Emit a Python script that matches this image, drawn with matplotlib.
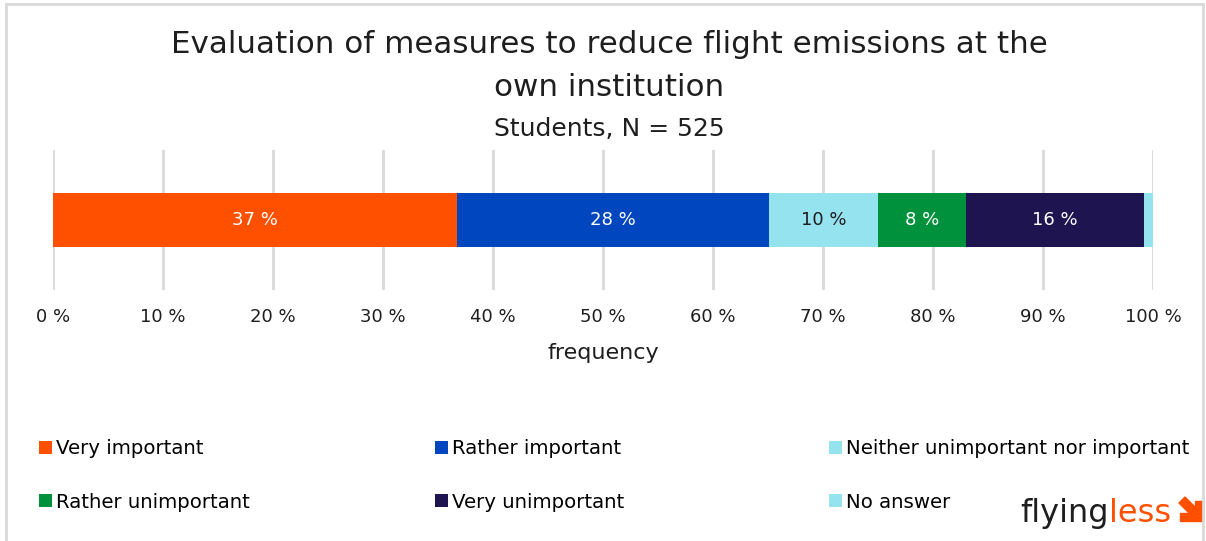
import matplotlib.pyplot as plt
from matplotlib.patches import Patch

plt.rcParams['font.family'] = ['DejaVu Sans']

# data
categories = ["Very important", "Rather important", "Neither unimportant nor important",
              "Rather unimportant", "Very unimportant", "No answer"]
shares = [36.7, 28.4, 9.9, 8.0, 16.2, 0.8]
labels = ["37 %", "28 %", "10 %", "8 %", "16 %", ""]
colors = ["#ff5000", "#0046be", "#96e3f0", "#00913c", "#1e1450", "#96e3f0"]
text_colors = ["white", "white", "#1e1e1e", "white", "white", "white"]
ticks = [0, 10, 20, 30, 40, 50, 60, 70, 80, 90, 100]
tick_labels = [f"{t} %" for t in ticks]

W, H = 1206, 541
fig = plt.figure(figsize=(W / 100, H / 100), dpi=100)


def px(x, y):
    # pixel position (from top-left) to figure fraction
    return [x / W, 1 - y / H]


# outer frame lines of the original screenshot
fig.add_artist(plt.Line2D([0.005, 0.005], [0, 0.993], color="#d9d9d9", lw=2))
fig.add_artist(plt.Line2D([0.9975, 0.9975], [0, 0.993], color="#d9d9d9", lw=2))
fig.add_artist(plt.Line2D([0.005, 0.9975], [0.993, 0.993], color="#d9d9d9", lw=2))

ax = fig.add_axes([0.044, 0.464, 0.912, 0.259])
left = 0
for v, lab, c, tc in zip(shares, labels, colors, text_colors):
    ax.barh(0, v, left=left, height=0.386, color=c, zorder=3)
    if lab:
        ax.text(left + v / 2, 0, lab, ha="center", va="center", color=tc, fontsize=13, zorder=4)
    left += v

ax.set_xlim(0, 100)
ax.set_ylim(-0.5, 0.5)
ax.set_xticks(ticks)
ax.set_xticklabels(tick_labels, fontsize=13, color="#1e1e1e")
ax.tick_params(axis="x", length=0, pad=13)
ax.set_yticks([])
ax.grid(axis="x", color="#d9d9d9", lw=2, zorder=0)
for s in ax.spines.values():
    s.set_visible(False)
ax.set_xlabel("frequency", fontsize=16, color="#1e1e1e", labelpad=12)

fig.text(0.505, 0.917, "Evaluation of measures to reduce flight emissions at the",
         ha="center", va="center", fontsize=22.3, color="#1e1e1e")
fig.text(0.505, 0.839, "own institution", ha="center", va="center", fontsize=22.3, color="#1e1e1e")
fig.text(0.505, 0.761, "Students, N = 525", ha="center", va="center", fontsize=18, color="#1e1e1e")

# legend, filled row by row in three columns
col_x = [0.026, 0.354, 0.681]
for i, x in enumerate(col_x):
    idx = [i, i + 3]
    fig.legend([Patch(facecolor=colors[k], edgecolor="none") for k in idx],
               [categories[k] for k in idx],
               loc="upper left", bbox_to_anchor=(x, 0.203), frameon=False,
               fontsize=14.2, handlelength=0.65, handleheight=0.65,
               handletextpad=0.2, labelspacing=1.75, borderaxespad=0)

# logo
t1 = fig.text(1020 / W, 1 - 522 / H, "flying", fontsize=23, color="#1e1e1e",
              ha="left", va="baseline")
fig.canvas.draw()
bb = t1.get_window_extent()
fig.text(bb.x1 / W, 1 - 522 / H, "less", fontsize=23, color="#ff5000",
         ha="left", va="baseline")
fig.add_artist(plt.Polygon([px(1195, 501), px(1203, 501), px(1203, 521), px(1180, 521),
                            px(1180, 513), px(1195, 513)], closed=True, color="#ff5000"))
fig.add_artist(plt.Polygon([px(1179, 503), px(1185, 497), px(1200, 512), px(1194, 518)],
                           closed=True, color="#ff5000"))

fig.savefig("out.png", dpi=100)
